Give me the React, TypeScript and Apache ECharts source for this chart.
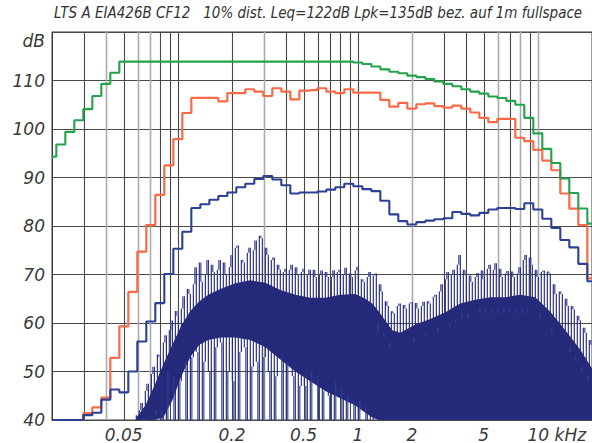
import { useEffect, useRef } from "react";
import * as echarts from "echarts";

// 1/6-octave (base-10, 20 per decade) band centres, Hz
const bandHz = [19.95, 22.39, 25.12, 28.18, 31.62, 35.48, 39.81, 44.67, 50.12, 56.23, 63.1, 70.79, 79.43, 89.13, 100, 112.2, 125.9, 141.3, 158.5, 177.8, 199.5, 223.9, 251.2, 281.8, 316.2, 354.8, 398.1, 446.7, 501.2, 562.3, 631, 707.9, 794.3, 891.3, 1000, 1122, 1259, 1413, 1585, 1778, 1995, 2239, 2512, 2818, 3162, 3548, 3981, 4467, 5012, 5623, 6310, 7079, 7943, 8913, 10000, 11220, 12589, 14125, 15849, 17783, 19953];

const greenDb = [94.3, 96.8, 99.4, 101.8, 104.1, 106.8, 109.3, 111.6, 113.9, 113.9, 113.9, 113.9, 113.9, 113.9, 113.9, 113.9, 113.9, 113.9, 113.9, 113.9, 113.9, 113.9, 113.9, 113.9, 113.9, 113.9, 113.9, 113.9, 113.9, 113.9, 113.9, 113.9, 113.9, 113.9, 113.7, 113.4, 112.9, 112.3, 111.8, 111.5, 111.0, 110.7, 110.3, 109.8, 109.3, 108.8, 108.2, 107.7, 107.3, 106.7, 106.4, 105.8, 105.0, 102.3, 99.1, 95.9, 93.0, 89.8, 86.8, 83.6, 80.5];

const orangeDb = [40, 40, 40, 40, 41.4, 42.6, 44.6, 52.8, 59.3, 66.4, 74.7, 80.2, 86.4, 92.5, 97.9, 103.3, 106.4, 106.4, 106.4, 105.7, 107.4, 107.4, 108.2, 107.7, 106.8, 108.4, 107.7, 106.1, 107.9, 108.0, 108.4, 107.7, 107.4, 108.2, 107.5, 107.5, 107.5, 106.0, 104.6, 105.4, 104.2, 105.1, 105.3, 104.7, 104.4, 104.8, 104.2, 103.4, 102.3, 101.4, 102.1, 102.1, 98.2, 97.5, 95.7, 93.5, 91.5, 86.7, 83.6, 80.2, 69.2];

const blueDb = [40, 40, 40, 40, 41.0, 41.5, 44.2, 46.3, 45.7, 50.0, 56.2, 60.3, 64.1, 70.1, 75.3, 78.8, 83.7, 84.5, 85.4, 86.2, 86.9, 88.0, 88.7, 89.7, 90.3, 89.6, 88.4, 86.7, 86.9, 86.9, 87.1, 87.5, 88.0, 88.7, 88.2, 87.6, 87.2, 85.2, 82.4, 81.0, 80.3, 80.8, 81.1, 81.4, 81.6, 82.9, 82.5, 82.2, 82.7, 83.4, 83.7, 83.7, 83.5, 84.7, 83.4, 81.5, 79.6, 77.1, 75.6, 72.2, 68.6];

// noise spectrum, bins of trace A (Hz, dB)
const noiseHz = [58.8, 61.1, 63.5, 66.0, 68.6, 71.3, 74.1, 77.0, 80.0, 83.1, 86.4, 89.7, 93.3, 96.9, 100.7, 104.6, 108.7, 113.0, 117.4, 122.0, 126.7, 131.7, 136.8, 142.2, 147.8, 153.5, 159.5, 165.8, 172.3, 179.0, 186.0, 193.3, 200.9, 208.7, 216.9, 225.4, 234.2, 243.3, 252.8, 262.7, 273.0, 283.7, 294.8, 306.3, 318.3, 330.7, 343.6, 357.1, 371.0, 385.6, 400.6, 416.3, 432.6, 449.5, 467.1, 485.4, 504.4, 524.1, 544.6, 565.9, 588.0, 611.0, 635.0, 659.8, 685.6, 712.5, 740.3, 769.3, 799.4, 830.7, 863.2, 897.0, 932.1, 968.5, 1006, 1046, 1087, 1129, 1173, 1219, 1267, 1317, 1368, 1422, 1477, 1535, 1595, 1658, 1722, 1790, 1860, 1933, 2008, 2087, 2168, 2253, 2341, 2433, 2528, 2627, 2730, 2837, 2948, 3063, 3183, 3307, 3437, 3571, 3711, 3856, 4006, 4163, 4326, 4495, 4671, 4854, 5044, 5241, 5446, 5659, 5880, 6110, 6349, 6598, 6856, 7124, 7403, 7693, 7994, 8306, 8631, 8969, 9320, 9685, 10064, 10457, 10866, 11291, 11733, 12192, 12669, 13165, 13680, 14215, 14771, 15349, 15949, 16573, 17222, 17895, 18596, 19323, 20079];

const noiseDb = [
  41, 40, 43.5, 40.5, 47.5, 41, 51, 42, 53, 40,
  57.5, 50, 60.5, 40, 61.5, 48, 65.5, 40, 66, 53,
  71.5, 40, 68.5, 52, 73, 40, 70.5, 55, 73, 40,
  70, 50, 74, 40, 76, 54, 72.5, 40, 75.5, 51,
  77, 40, 77.5, 53, 74, 40, 73.5, 49, 71, 40,
  71.2, 52, 72, 40, 70, 47, 71.2, 40, 71, 50,
  69.5, 40, 70.8, 46, 69.5, 40, 70.9, 48, 71, 40,
  71.4, 45, 69.5, 40, 71.6, 44, 68.5, 40, 70.5, 40,
  70.2, 60, 66.5, 58, 63.5, 56, 62, 55, 64, 55,
  63, 56, 64.3, 57, 63, 57, 64.4, 58, 64, 58,
  65.8, 59, 68, 59, 70.5, 60, 71, 61, 74, 62,
  70, 62, 68.5, 62, 70.3, 63, 69, 63, 72, 63,
  72.3, 63, 69.5, 63, 70.7, 63, 69.5, 63, 71.5, 63,
  74, 63, 72, 62, 69.5, 62, 70.8, 60, 70.2, 59,
  66, 57, 66, 56, 63.5, 55, 62.8, 53, 60.5, 51,
  58, 49, 55.5,
];

// noise spectrum, bins of trace B, lying between those of trace A
const noise2Hz = [59.9, 62.3, 64.7, 67.3, 69.9, 72.7, 75.5, 78.5, 81.6, 84.7, 88.1, 91.4, 95.1, 98.8, 102.7, 106.6, 110.8, 115.2, 119.7, 124.4, 129.2, 134.3, 139.5, 145.0, 150.7, 156.5, 162.6, 169.0, 175.6, 182.5, 189.6, 197.0, 204.8, 212.7, 221.1, 229.8, 238.7, 248.0, 257.7, 267.8, 278.3, 289.2, 300.5, 312.2, 324.5, 337.1, 350.3, 364.0, 378.2, 393.1, 408.4, 424.4, 441.0, 458.2, 476.2, 494.8, 514.2, 534.3, 555.2, 576.9, 599.4, 622.9, 647.3, 672.6, 698.9, 726.3, 754.7, 784.2, 814.9, 846.8, 879.9, 914.4, 950.2, 987.3, 1026, 1066, 1108, 1151, 1196, 1243, 1292, 1343, 1395, 1450, 1506, 1565, 1626, 1690, 1755, 1825, 1896, 1971, 2047, 2127, 2210, 2297, 2386, 2480, 2577, 2678, 2783, 2892, 3005, 3122, 3245, 3371, 3504, 3640, 3783, 3931, 4084, 4244, 4410, 4582, 4762, 4948, 5142, 5343, 5552, 5769, 5994, 6229, 6472, 6726, 6989, 7262, 7547, 7842, 8149, 8467, 8798, 9143, 9501, 9873, 10259, 10660, 11077, 11510, 11961, 12429, 12915, 13420, 13945, 14491, 15058, 15647, 16258, 16895, 17556, 18242, 18957, 19698];

const noise2Db = [
  40, 42, 40, 46, 40.5, 49.5, 41, 53.5, 42, 56,
  40, 58.5, 49, 62.5, 40, 63, 52, 67, 40, 68,
  54, 72.5, 40, 70, 50, 72, 40, 71, 56, 72.5,
  40, 71.5, 48, 75.5, 40, 73, 55, 74.5, 40, 75,
  52, 78, 40, 75.5, 50, 73, 40, 72, 53, 70.5,
  40, 71, 49, 71.5, 40, 70.5, 47, 70, 40, 71,
  49, 70, 40, 70.5, 45, 69.5, 40, 70.5, 47, 70,
  40, 70.2, 44, 70.8, 40, 69, 43, 69.5, 40, 69.8,
  58, 68, 57, 64.5, 55, 62.4, 55, 63.5, 55, 63.7,
  56, 64, 56, 64.1, 57, 63.5, 57, 64.5, 58, 65.4,
  58, 66.5, 59, 69, 59, 70, 60, 72, 61, 71,
  61, 69.8, 62, 69.5, 62, 70.8, 62, 71.2, 62, 71,
  62, 71.2, 62, 70.2, 62, 70.6, 62, 70.2, 62, 73,
  62, 73.5, 62, 71, 61, 70.5, 60, 70.6, 58, 68,
  57, 66.5, 56, 65, 54, 63.5, 52, 61.5, 50, 59,
  48, 56.5,
];

// solid mass of the noise spectrum: upper and lower edge
const bodyHz = [58.8, 66.0, 74.0, 83.1, 93.2, 104.6, 117.4, 131.7, 147.7, 172.2, 208.7, 252.8, 306.2, 371.0, 449.5, 544.6, 659.7, 799.3, 968.4, 1101, 1203, 1300, 1421, 1554, 1722, 2087, 2528, 3062, 3710, 4495, 5446, 6597, 7993, 9684, 11733, 14218, 17220, 20079];
const bodyTopDb = [40.5, 43, 47, 51.5, 55.5, 59.5, 62.5, 64.5, 65.8, 67, 68.2, 68.8, 68.3, 66.8, 65.8, 65.2, 65.2, 65.8, 66, 65, 64, 62.5, 60.5, 58.5, 58, 59.7, 60.8, 62.2, 64, 64.8, 65.3, 65.3, 65.8, 65.3, 62.3, 58.5, 54.5, 50.5];
const bodyFloorDb = [40, 40, 40, 40.5, 44, 49, 53, 55.5, 56.5, 57, 57, 56.5, 55, 52.5, 50, 48, 46, 44.5, 43, 41.5, 40.5, 40, 40, 40, 40, 40, 40, 40, 40, 40, 40, 40, 40, 40, 40, 40, 40, 40];

const gridDarkHz = [30, 50, 80, 90, 100, 200, 400, 500, 600, 700, 800, 900, 1000, 3000, 4000, 5000, 7000, 9000];
const gridLightHz = [40, 60, 70, 300, 2000, 6000, 8000, 10000];

const xLabelHz = [50, 200, 500, 1000, 2000, 5000, 10000];
const xLabelText = ["0.05", "0.2", "0.5", "1", "2", "5", "10 kHz"];

const titleText = "LTS A EIA426B CF12   10% dist. Leq=122dB Lpk=135dB bez. auf 1m fullspace";

export default function App() {
  const ref = useRef<HTMLDivElement>(null);

  useEffect(() => {
    if (!ref.current) return;
    const chart = echarts.init(ref.current, null, { renderer: "svg" });
    const lg = (v: number) => Math.log10(v);
    const FONT = "'DejaVu Sans', 'Liberation Sans', sans-serif";
    const TXT = "#3a3a3a";
    const NAVY = "#252a7a";

    const vline = (color: string, width: number) => (_p: any, api: any) => {
      const f = api.value(0);
      const a = api.coord([f, 40]);
      const b = api.coord([f, 120]);
      const x = Math.round(a[0]) + 0.5;
      return {
        type: "line",
        shape: { x1: x, y1: a[1], x2: x, y2: b[1] },
        style: { stroke: color, lineWidth: width },
      };
    };

    const stepLine = (name: string, vals: number[], color: string, width: number, z: number) => ({
      name,
      type: "line",
      xAxisIndex: 0,
      yAxisIndex: 0,
      step: "middle",
      showSymbol: false,
      symbol: "none",
      z,
      lineStyle: { color, width },
      data: bandHz.map((f, i) => [f, vals[i]]),
    });

    // spectrum trace: both bin sets merged in frequency order; each bin is drawn
    // as a vertical stroke from its level to the level of the following bin
    const bins = [
      ...noiseHz.map((f, i) => [f, noiseDb[i], 0]),
      ...noise2Hz.map((f, i) => [f, noise2Db[i], 1]),
    ].sort((a, b) => a[0] - b[0]);
    const spikeData = bins.slice(0, -1).map((b, i) => [b[0], b[1], bins[i + 1][1], b[2]]);

    const option: any = {
      animation: false,
      backgroundColor: "#ffffff",
      grid: { left: 52, right: 0, top: 32, bottom: 20, show: true, borderColor: "#3a3a3a", borderWidth: 1, backgroundColor: "transparent" },
      xAxis: [
        {
          type: "log",
          logBase: 10,
          min: 20,
          max: 20000,
          axisLine: { show: false },
          axisTick: { show: false },
          axisLabel: { show: false },
          splitLine: { show: false },
          minorSplitLine: { show: false },
        },
        {
          type: "value",
          position: "bottom",
          min: lg(20),
          max: lg(20000),
          axisLine: { show: false },
          axisTick: { show: false },
          splitLine: { show: false },
          axisLabel: {
            customValues: xLabelHz.map(lg),
            margin: 6,
            color: TXT,
            fontSize: 17,
            fontStyle: "italic",
            fontFamily: FONT,
            formatter: (v: number) => {
              const i = xLabelHz.findIndex((h) => Math.abs(lg(h) - v) < 1e-6);
              if (i < 0) return "";
              if (i === xLabelHz.length - 1) return "{k|" + xLabelText[i] + "}";
              return xLabelText[i];
            },
            rich: {
              k: { fontSize: 17, fontStyle: "italic", fontFamily: FONT, color: TXT, padding: [0, 0, 0, 38] },
            },
          },
        },
      ],
      yAxis: {
        type: "value",
        min: 40,
        max: 120,
        interval: 10,
        axisLine: { show: true, lineStyle: { color: "#3a3a3a", width: 1 } },
        axisTick: { show: false },
        splitLine: { show: true, lineStyle: { color: "#4a4a4a", width: 1 } },
        axisLabel: {
          margin: 7,
          color: TXT,
          fontSize: 17,
          fontStyle: "italic",
          fontFamily: FONT,
          formatter: (v: number) => (v === 120 ? "{db|dB}" : String(v)),
          rich: {
            db: { fontSize: 17, fontStyle: "italic", fontFamily: FONT, color: TXT, padding: [18, 0, 0, 0] },
          },
        },
      },
      graphic: [
        {
          type: "text",
          x: 318,
          y: 13,
          silent: true,
          style: {
            text: titleText,
            fill: "#333333",
            fontSize: 15,
            fontStyle: "italic",
            fontFamily: "'DejaVu Sans Condensed', 'Liberation Sans Narrow', sans-serif",
            align: "center",
            verticalAlign: "middle",
          },
        },
      ],
      series: [
        {
          name: "gridLight",
          type: "custom",
          xAxisIndex: 0,
          yAxisIndex: 0,
          silent: true,
          z: 1,
          renderItem: vline("#ababab", 1.6),
          data: gridLightHz.map((f) => [f, 120]),
        },
        {
          name: "gridDark",
          type: "custom",
          xAxisIndex: 0,
          yAxisIndex: 0,
          silent: true,
          z: 1,
          renderItem: vline("#474747", 1.1),
          data: gridDarkHz.map((f) => [f, 120]),
        },
        {
          name: "noiseBody",
          type: "custom",
          xAxisIndex: 0,
          yAxisIndex: 0,
          silent: true,
          z: 2,
          clip: true,
          renderItem: (params: any, api: any) => {
            if (params.dataIndex !== 0) return null;
            const pts: number[][] = [];
            for (let i = 0; i < bodyHz.length; i++) pts.push(api.coord([bodyHz[i], bodyTopDb[i]]));
            for (let i = bodyHz.length - 1; i >= 0; i--) pts.push(api.coord([bodyHz[i], bodyFloorDb[i]]));
            return { type: "polygon", shape: { points: pts }, style: { fill: NAVY } };
          },
          data: bodyHz.map((f, i) => [f, bodyTopDb[i], bodyFloorDb[i]]),
        },
        {
          name: "noise",
          type: "custom",
          xAxisIndex: 0,
          yAxisIndex: 0,
          silent: true,
          z: 2,
          clip: true,
          renderItem: (_p: any, api: any) => {
            const f = api.value(0);
            const a = api.coord([f, api.value(1)]);
            const b = api.coord([f, api.value(2)]);
            return {
              type: "line",
              shape: { x1: a[0], y1: a[1], x2: b[0], y2: b[1] },
              style: { stroke: api.value(3) ? "#33409a" : NAVY, lineWidth: 1.15 },
            };
          },
          data: spikeData,
        },
        stepLine("orange", orangeDb, "#f96a47", 2.2, 3),
        stepLine("blue", blueDb, "#2c4196", 2.1, 4),
        stepLine("green", greenDb, "#23a34c", 2.1, 5),
      ],
    };

    chart.setOption(option);
    return () => chart.dispose();
  }, []);

  return <div ref={ref} style={{ position: "fixed", left: 0, top: 0, width: 592, height: 443 }} />;
}
